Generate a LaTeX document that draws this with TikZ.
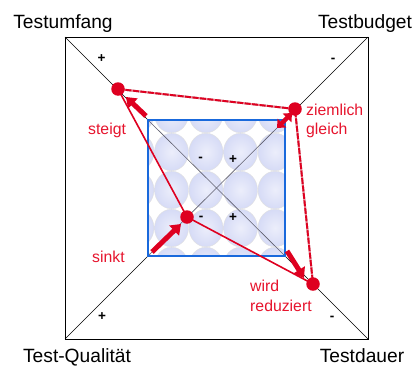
\documentclass[tikz,border=0pt]{standalone}
\usepackage{fontspec}
\setmainfont{Liberation Sans}
\usetikzlibrary{arrows.meta}
\definecolor{myred}{RGB}{222,0,32}
\definecolor{txtred}{RGB}{230,20,45}
\definecolor{myblue}{RGB}{25,105,220}
\definecolor{lav}{RGB}{214,219,246}
\definecolor{lavlight}{RGB}{236,238,251}
\definecolor{diaggray}{RGB}{95,95,110}
\begin{document}
\begin{tikzpicture}[x=1pt,y=-1pt,
  axisline/.style={black, line width=0.6pt},
  innerdiag/.style={diaggray, line width=0.6pt},
  corner/.style={font=\fontsize{19.2}{22}\selectfont, anchor=base, inner sep=0pt},
  redlabel/.style={font=\fontsize{15.8}{19}\selectfont, text=txtred, anchor=base west, inner sep=0pt},
  sign/.style={font=\bfseries\fontsize{13.5}{15}\selectfont, inner sep=0pt},
  pt/.style={circle, fill=myred, minimum size=13.5pt, inner sep=0pt},
  solidred/.style={myred, line width=1.6pt},
  dashedred/.style={myred, line width=1.9pt, dash pattern=on 6pt off 1.5pt},
  shadowline/.style={black!30, line width=2pt, shift={(1.3,1.3)}},
  blockarrow/.style={myred, line width=5pt, -{Triangle[length=9.5pt,width=13.5pt]}},
  dblockarrow/.style={myred, line width=4.5pt, {Triangle[length=7pt,width=12pt]}-{Triangle[length=7pt,width=12pt]}}
]
\useasboundingbox (0,0) rectangle (417,367);
% outer frame
\coordinate (OTL) at (65,37);
\coordinate (OTR) at (368,37);
\coordinate (OBL) at (65,339);
\coordinate (OBR) at (368,339);
\coordinate (ITL) at (148,120);
\coordinate (ITR) at (285,120);
\coordinate (IBL) at (148,256);
\coordinate (IBR) at (285,256);
\draw[axisline] (OTL) rectangle (OBR);
\draw[axisline] (OTL) -- (ITL);
\draw[axisline] (OTR) -- (ITR);
\draw[axisline] (OBL) -- (IBL);
\draw[axisline] (OBR) -- (IBR);
% inner square with circle pattern
\begin{scope}
\clip (ITL) rectangle (IBR);
\fill[white] (ITL) rectangle (IBR);
\foreach \cx in {137,171.5,206,240.5,275,309.5}{
  \foreach \cy in {114,152,190,228,266}{
    \shade[inner color=lavlight, outer color=lav] (\cx,\cy) ellipse [x radius=17, y radius=18.8];
    \draw[black!12, line width=0.4pt] (\cx,\cy) ellipse [x radius=17, y radius=18.8];
  }
}
\end{scope}
\draw[innerdiag] (ITL) -- (IBR);
\draw[innerdiag] (ITR) -- (IBL);
\draw[myblue, line width=2.8pt] (ITL) rectangle (IBR);
% corner labels
\node[corner] (tu) at (63,28) {Testumfang};
\node[corner] (tb) at (365,28) {Testbudget};
\node[corner] (tq) at (77,362) {Test-Qualität};
\node[corner] (td) at (362,362) {Testdauer};
% signs
\node[sign] (s1) at (101.5,59) {+};
\node[sign] (s2) at (333,60) {-};
\node[sign] (s3) at (102,317) {+};
\node[sign] (s4) at (332,318) {-};
\node[sign] (s5) at (200.5,159) {-};
\node[sign] (s6) at (233,160) {+};
\node[sign] (s7) at (201,218) {-};
\node[sign] (s8) at (233,218) {+};
% red points
\coordinate (cU) at (118,89);
\coordinate (cB) at (295,109);
\coordinate (cQ) at (187,217);
\coordinate (cD) at (313,284);
% polygon
\draw[shadowline] (cU) -- (cB) -- (cD);
\draw[myred!45, line width=1.9pt] (cU) -- (cB) -- (cD);
\draw[dashedred] (cU) -- (cB) -- (cD);
\draw[solidred] (cU) -- (cQ) -- (cD);
\node[pt] (U) at (cU) {};
\node[pt] (B) at (cB) {};
\node[pt] (Q) at (cQ) {};
\node[pt] (D) at (cD) {};
% block arrows
\coordinate (a1s) at (146,116);
\coordinate (a1e) at (126,97);
\coordinate (a2s) at (277,128);
\coordinate (a2e) at (292,113);
\coordinate (a3s) at (152,252);
\coordinate (a3e) at (181,224);
\coordinate (a4s) at (287,251);
\coordinate (a4e) at (304,278);
\draw[blockarrow] (a1s) -- (a1e);
\draw[dblockarrow] (a2s) -- (a2e);
\draw[blockarrow] (a3s) -- (a3e);
\draw[blockarrow] (a4s) -- (a4e);
% red labels
\node[redlabel] (l1) at (88,134) {steigt};
\node[redlabel] (l2a) at (306,115) {ziemlich};
\node[redlabel] (l2b) at (306,134) {gleich};
\node[redlabel] (l3) at (92,262) {sinkt};
\node[redlabel] (l4a) at (250,291) {wird};
\node[redlabel] (l4b) at (250,311) {reduziert};
\end{tikzpicture}
\end{document}
